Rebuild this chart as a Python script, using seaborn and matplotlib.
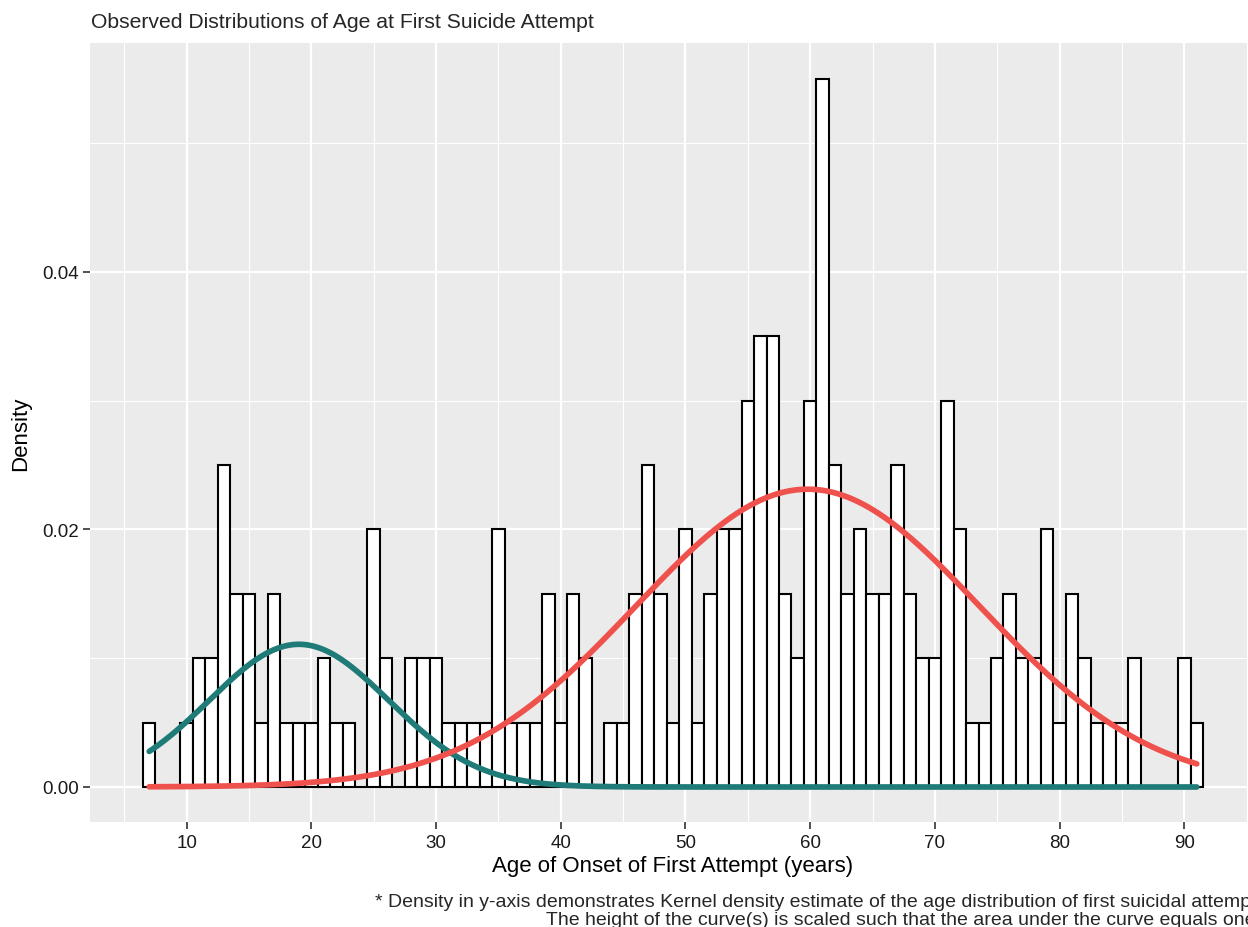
import numpy as np
import pandas as pd
import seaborn as sns
import matplotlib.pyplot as plt
from matplotlib.ticker import MultipleLocator, FormatStrFormatter

# ages (bin centres, width 1 year) and observed densities
ages = list(range(7, 92))
density = [
    0.005, 0.0, 0.0, 0.005, 0.01, 0.01, 0.025, 0.015, 0.015, 0.005,   # 7-16
    0.015, 0.005, 0.005, 0.005, 0.01, 0.005, 0.005, 0.0, 0.02, 0.01,  # 17-26
    0.0, 0.01, 0.01, 0.01, 0.005, 0.005, 0.005, 0.005, 0.02, 0.005,   # 27-36
    0.005, 0.005, 0.015, 0.005, 0.015, 0.01, 0.0, 0.005, 0.005, 0.015,  # 37-46
    0.025, 0.015, 0.005, 0.02, 0.005, 0.015, 0.02, 0.02, 0.03, 0.035,   # 47-56
    0.035, 0.015, 0.01, 0.03, 0.055, 0.025, 0.015, 0.02, 0.015, 0.015,  # 57-66
    0.025, 0.015, 0.01, 0.01, 0.03, 0.02, 0.005, 0.005, 0.01, 0.015,    # 67-76
    0.01, 0.01, 0.02, 0.005, 0.015, 0.01, 0.005, 0.005, 0.005, 0.01,    # 77-86
    0.0, 0.0, 0.0, 0.01, 0.005,                                         # 87-91
]

# two fitted normal components (weight, mean, sd)
comp_names = ["early", "late"]
comp_weight = [0.20, 0.80]
comp_mean = [19.0, 59.8]
comp_sd = [7.2, 13.8]
comp_color = ["#1F7B77", "#EF524D"]

df = pd.DataFrame({"age": ages, "density": density})

sns.set_theme(style="darkgrid")
plt.rcParams["font.family"] = ["Liberation Sans", "DejaVu Sans"]

fig = plt.figure(figsize=(12.48, 9.28), dpi=100)
ax = fig.add_axes([90 / 1248, 1 - 823.4 / 928, 1166 / 1248, 779 / 928])
ax.set_facecolor("#EBEBEB")

sns.histplot(data=df, x="age", weights="density", binwidth=1, binrange=(6.5, 91.5),
             stat="count", color="white", alpha=1, edgecolor="black", linewidth=1.5, ax=ax)

xs = np.linspace(min(ages), max(ages), 400)
for w, m, s, c in zip(comp_weight, comp_mean, comp_sd, comp_color):
    ys = w / (s * np.sqrt(2 * np.pi)) * np.exp(-(xs - m) ** 2 / (2 * s ** 2))
    sns.lineplot(x=xs, y=ys, color=c, linewidth=4.1, ax=ax)

ax.set_xlim(2.25, 95.75)
ax.set_ylim(-0.00275, 0.05775)
ax.xaxis.set_major_locator(MultipleLocator(10))
ax.xaxis.set_minor_locator(MultipleLocator(5))
ax.yaxis.set_major_locator(MultipleLocator(0.02))
ax.yaxis.set_minor_locator(MultipleLocator(0.01))
ax.yaxis.set_major_formatter(FormatStrFormatter("%.2f"))

ax.grid(which="major", color="white", linewidth=1.6)
ax.grid(which="minor", color="white", linewidth=0.8)
ax.set_axisbelow(True)
for sp in ax.spines.values():
    sp.set_visible(False)

ax.tick_params(which="major", length=5, width=1.2, color="#333333",
               labelsize=13.5, labelcolor="#1A1A1A", pad=3, bottom=True, left=True)
ax.tick_params(which="minor", length=0)

ax.set_xlabel("Age of Onset of First Attempt (years)", fontsize=16, color="black", labelpad=3)
ax.set_ylabel("Density", fontsize=16, color="black", labelpad=8)

fig.text(91 / 1248, 1 - 28 / 928, "Observed Distributions of Age at First Suicide Attempt",
         fontsize=15.2, ha="left", va="baseline")
fig.text(1256 / 1248, 1 - 925 / 928,
         "* Density in y-axis demonstrates Kernel density estimate of the age distribution of first suicidal attempt\n"
         "The height of the curve(s) is scaled such that the area under the curve equals one",
         fontsize=14, ha="right", va="baseline", multialignment="right", linespacing=1.05)

fig.savefig("out.png", dpi=100)
